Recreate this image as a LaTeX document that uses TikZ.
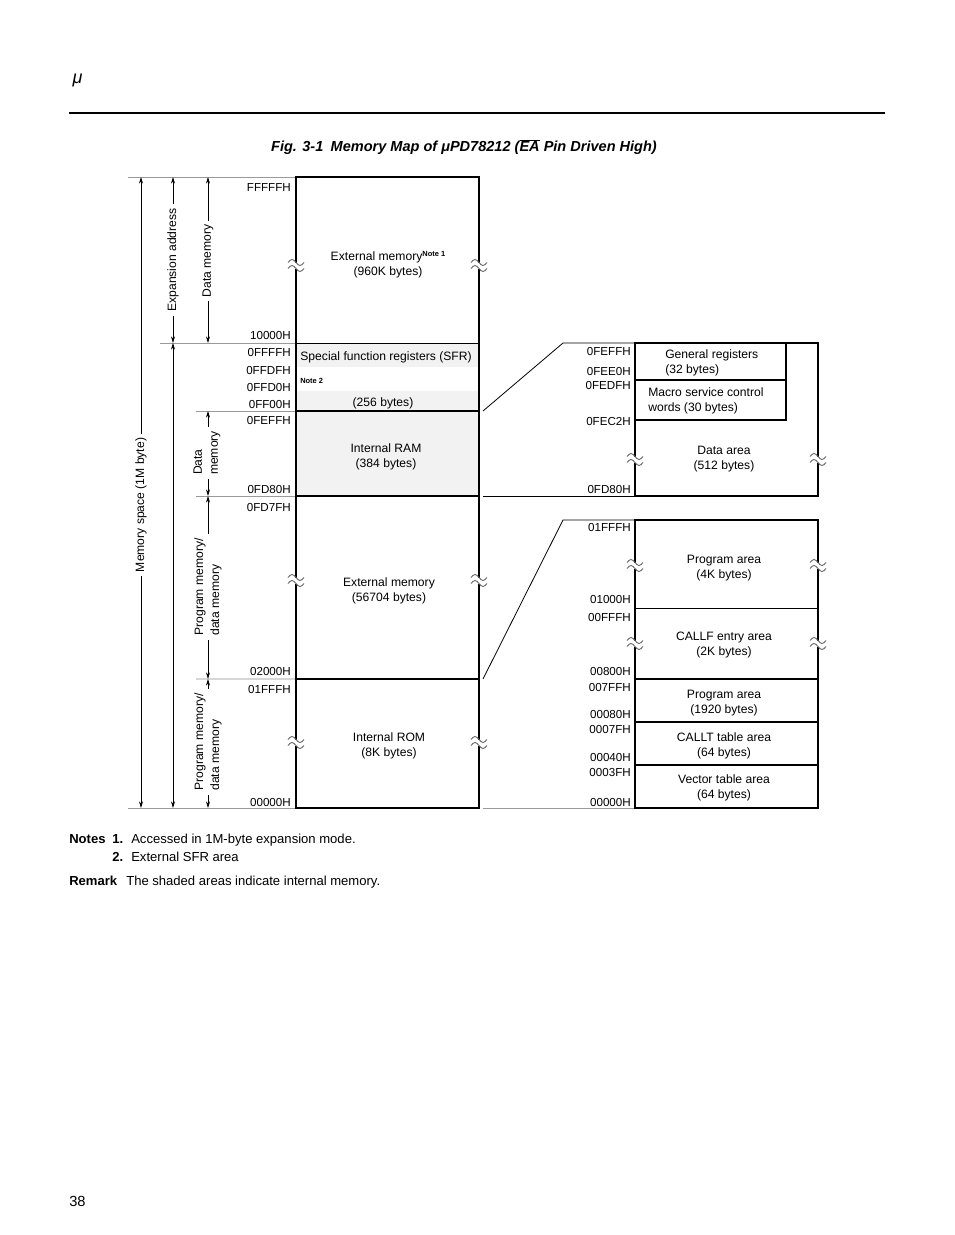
\documentclass[tikz,border=0pt]{standalone}
\usepackage{fontspec}
\setmainfont{Liberation Sans}
\usetikzlibrary{positioning,calc,arrows.meta}
\definecolor{sombra}{HTML}{F2F2F2}
\definecolor{guia}{HTML}{9A9A9A}
\definecolor{guiaclara}{HTML}{D6D6D6}
\definecolor{onda}{HTML}{6A6A6A}
\newcommand{\nota}[1]{\raisebox{0.6ex}{\fontsize{5.6}{6}\selectfont\bfseries #1}}

\tikzset{
  addr/.style={anchor=east, inner sep=0pt, yshift=-0.75pt, font=\fontsize{8.7}{10}\selectfont},
  area/.style={align=center, inner sep=0pt, yshift=-1.5pt, font=\fontsize{9.1}{11.3}\selectfont},
  span/.style={{Stealth[length=5pt,width=3pt]}-{Stealth[length=5pt,width=3pt]}, line width=0.6pt},
  spanlbl/.style={rotate=90, fill=white, align=left, inner sep=3pt, font=\fontsize{9.1}{12}\selectfont},
  borde/.style={line width=1.5pt},
  fino/.style={line width=0.6pt},
  guide/.style={guia, line width=0.7pt},
  cutmark/.pic={
    \fill[white] (-8,-2.5) rectangle (8,3.5);
    \draw[onda, line width=0.7pt] (-8,-2.5) sin (-4,-5.5) cos (0,-2.5) sin (4,0.5) cos (8,-2.5);
    \draw[onda, line width=0.7pt] (-8,3.5) sin (-4,0.5) cos (0,3.5) sin (4,6.5) cos (8,3.5);
  }
}

\begin{document}
\begin{tikzpicture}[x=0.75pt, y=-0.75pt, every node/.style={text=black}]
\useasboundingbox (0,0) rectangle (954,1235);
\fill[white] (0,0) rectangle (954,1235);

% ================= cabecera =================
\node[anchor=west, font=\fontsize{13.5}{14}\selectfont\itshape] (mu) at (68,80) {μ};
\draw[line width=2.2pt] (69,113) coordinate (r0) -- (885,113) coordinate (r1);
\node[font=\fontsize{10.9}{12}\selectfont\bfseries\itshape] (titulo) at (464,147)
  {Fig. 3-1\enspace Memory Map of μPD78212 ($\overline{\hbox{EA}}$ Pin Driven High)};

% ================= niveles y columnas de flechas =================
\coordinate (yFFFFF) at (0,177);
\coordinate (y10000) at (0,343);
\coordinate (y0FF00) at (0,411);
\coordinate (y0FD80) at (0,496);
\coordinate (y02000) at (0,679);
\coordinate (y00000) at (0,808);
\coordinate (xms) at (141,0);
\coordinate (xea) at (173,0);
\coordinate (xdm) at (208,0);
\coordinate (xcol) at (296,0);

% lineas guia
\draw[guide] (128,177) -- (xcol |- yFFFFF);
\draw[guide] (160,343) -- (xcol |- y10000);
\draw[guide] (196,411) -- (xcol |- y0FF00);
\draw[guide] (196,496) -- (xcol |- y0FD80);
\draw[guiaclara, line width=0.9pt] (196,679) -- (xcol |- y02000);
\draw[guide] (128,808) -- (xcol |- y00000);

% flechas de rango
\draw[span] (xms |- yFFFFF) -- (xms |- y00000);
\draw[span] (xea |- yFFFFF) -- (xea |- y10000);
\draw[span] (xea |- y10000) -- (xea |- y00000);
\draw[span] (xdm |- yFFFFF) -- (xdm |- y10000);
\draw[span] (xdm |- y0FF00) -- (xdm |- y0FD80);
\draw[span] (xdm |- y0FD80) -- (xdm |- y02000);
\draw[span] (xdm |- y02000) -- (xdm |- y00000);

\node[spanlbl] (lblms) at (141,505) {Memory space (1M byte)};
\node[spanlbl] (lblea) at (173,260) {Expansion address};
\node[spanlbl] (lbldm) at (208,261) {Data memory};
\node[spanlbl] (lblram) at (207,453) {Data\\memory};
\node[spanlbl] (lblpm1) at (208,587) {Program memory/\\data memory};
\node[spanlbl] (lblpm2) at (208,742) {Program memory/\\data memory};

% ================= columna principal =================
\fill[sombra] (296,343) rectangle (479,367);
\fill[sombra] (296,391) rectangle (479,496);
\draw[fino] (296,343) -- (479,343);
\draw[borde] (296,411) -- (479,411);
\draw[borde] (296,496) -- (479,496);
\draw[borde] (296,679) -- (479,679);
\draw[borde] (296,177) rectangle (479,808);
\foreach \yy in {265,580,742} {
  \pic at (296,\yy) {cutmark};
  \pic at (479,\yy) {cutmark};
}

\node[area] (extmem) at (388,263) {External memory\nota{Note 1}\\(960K bytes)};
\node[area] (sfr) at (386,355) {Special function registers (SFR)};
\node[anchor=west, inner sep=0pt, font=\fontsize{5.6}{6}\selectfont\bfseries] (nota2) at (300,381) {Note 2};
\node[area] (sfrsz) at (383,401) {(256 bytes)};
\node[area] (iram) at (386,455) {Internal RAM\\(384 bytes)};
\node[area] (extmem2) at (389,589) {External memory\\(56704 bytes)};
\node[area] (irom) at (389,744) {Internal ROM\\(8K bytes)};

% direcciones
\foreach \yy/\ad in {187/FFFFFH, 335/10000H, 352/0FFFFH, 370/0FFDFH, 387/0FFD0H,
                     404/0FF00H, 420/0FEFFH, 489/0FD80H, 507/0FD7FH, 670/02000H,
                     688/01FFFH, 801/00000H}
  \node[addr] at (291,\yy) {\ad};

% ================= detalle RAM interna =================
\draw[fino] (483,411) -- (563,343) coordinate (kr0) -- (634,343);
\draw[fino] (483,496) -- (634,496);
\draw[borde] (635,343) rectangle (818,496);
\draw[borde] (635,380) -- (786,380);
\draw[borde] (635,420) -- (786,420) -- (786,343);
\pic at (635,459) {cutmark};
\pic at (818,459) {cutmark};

\node[area, align=left, anchor=west] (genreg) at (665,361) {General registers\\(32 bytes)};
\node[area, align=left, anchor=west] (macro) at (648,399) {Macro service control\\words (30 bytes)};
\node[area] (datarea) at (724,457) {Data area\\(512 bytes)};

\foreach \yy/\ad in {351/0FEFFH, 371/0FEE0H, 385/0FEDFH, 421/0FEC2H, 489/0FD80H}
  \node[addr] at (631,\yy) {\ad};

% ================= detalle ROM interna =================
\draw[fino] (483,679) -- (563,520) coordinate (kr1) -- (634,520);
\draw[guide] (483,808) -- (634,808);
\draw[fino] (635,608) -- (818,608);
\draw[borde] (635,679) -- (818,679);
\draw[borde] (635,722) -- (818,722);
\draw[borde] (635,765) -- (818,765);
\draw[borde] (635,520) rectangle (818,808);
\foreach \yy in {565,643} {
  \pic at (635,\yy) {cutmark};
  \pic at (818,\yy) {cutmark};
}

\node[area] (prog4k) at (724,566) {Program area\\(4K bytes)};
\node[area] (callf) at (724,643) {CALLF entry area\\(2K bytes)};
\node[area] (prog1920) at (724,701) {Program area\\(1920 bytes)};
\node[area] (callt) at (724,744) {CALLT table area\\(64 bytes)};
\node[area] (vector) at (724,786) {Vector table area\\(64 bytes)};

\foreach \yy/\ad in {527/01FFFH, 598/01000H, 616/00FFFH, 670/00800H, 686/007FFH,
                     713/00080H, 728/0007FH, 756/00040H, 771/0003FH, 801/00000H}
  \node[addr] at (631,\yy) {\ad};

% ================= notas =================
\begin{scope}[every node/.style={anchor=base west, inner sep=0pt, font=\fontsize{9.8}{11}\selectfont}]
\node (notes) at (69,843) {\textbf{Notes}};
\node (n1) at (112,843) {\textbf{1.}};
\node (n1t) at (131,843) {Accessed in 1M-byte expansion mode.};
\node (n2) at (112,861) {\textbf{2.}};
\node (n2t) at (131,861) {External SFR area};
\node (rem) at (69,885) {\textbf{Remark}};
\node (remt) at (126,885) {The shaded areas indicate internal memory.};
\end{scope}

\node[anchor=base west, inner sep=0pt, font=\fontsize{11}{12}\selectfont] (pagina) at (69,1206) {38};

\end{tikzpicture}
\end{document}
